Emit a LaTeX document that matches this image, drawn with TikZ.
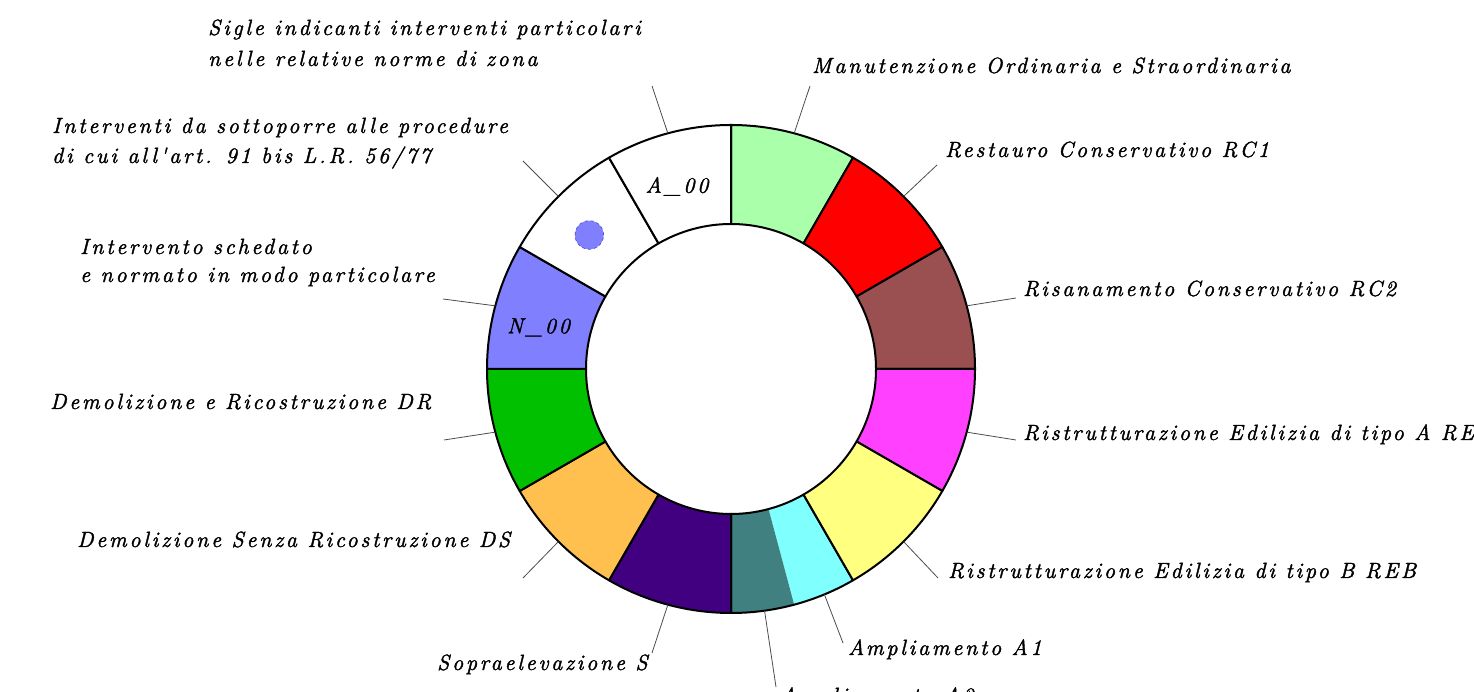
\documentclass[tikz,border=0pt]{standalone}
\usepackage{fontspec}
\setmainfont{Latin Modern Roman}
\newfontfamily\lblfam{Latin Modern Roman}[LetterSpace=13, FakeBold=1.8]
\definecolor{cMO}{RGB}{170,255,170}
\definecolor{cRC1}{RGB}{255,0,0}
\definecolor{cRC2}{RGB}{154,80,80}
\definecolor{cREA}{RGB}{255,64,255}
\definecolor{cREB}{RGB}{255,255,128}
\definecolor{cA1}{RGB}{128,255,255}
\definecolor{cA2}{RGB}{64,128,128}
\definecolor{cS}{RGB}{64,0,128}
\definecolor{cDS}{RGB}{255,192,80}
\definecolor{cDR}{RGB}{0,192,0}
\definecolor{cN}{RGB}{128,128,255}
\definecolor{cDot}{RGB}{64,64,224}
\begin{document}
\begin{tikzpicture}[x=1pt,y=1pt,
  seg/.style={draw=black, line width=2pt, line join=round},
  leader/.style={draw=black!70, line width=0.8pt},
  lbl/.style={anchor=base west, inner sep=0pt, font=\lblfam\itshape\fontsize{22}{26}\selectfont},
  inlbl/.style={anchor=base, inner sep=0pt, font=\lblfam\itshape\fontsize{22}{26}\selectfont},
  dotmark/.style={circle, minimum size=28.6pt, inner sep=0pt, fill=cN, draw=cDot, dashed, line width=0.6pt}]
\useasboundingbox (0,0) rectangle (1474,692);
\clip (0,0) rectangle (1474,692);
\coordinate (C) at (731,323);
% fills of the half sectors A1 / A2
\fill[cA1] ([shift={(-75:244pt)}]C) arc[start angle=-75,end angle=-60,radius=244pt]
  -- ([shift={(-60:145pt)}]C) arc[start angle=-60,end angle=-75,radius=145pt] -- cycle;
\fill[cA2] ([shift={(-90:244pt)}]C) arc[start angle=-90,end angle=-75,radius=244pt]
  -- ([shift={(-75:145pt)}]C) arc[start angle=-75,end angle=-90,radius=145pt] -- cycle;
\draw[seg] ([shift={(-90:244pt)}]C) arc[start angle=-90,end angle=-60,radius=244pt]
  -- ([shift={(-60:145pt)}]C) arc[start angle=-60,end angle=-90,radius=145pt] -- cycle;
% full sectors
\foreach \a/\b/\c in {60/90/cMO, 30/60/cRC1, 0/30/cRC2, -30/0/cREA, -60/-30/cREB,
  -120/-90/cS, -150/-120/cDS, -180/-150/cDR, 150/180/cN, 120/150/white, 90/120/white}{
  \filldraw[seg, fill=\c] ([shift={(\a:244pt)}]C) arc[start angle=\a,end angle=\b,radius=244pt]
    -- ([shift={(\b:145pt)}]C) arc[start angle=\b,end angle=\a,radius=145pt] -- cycle;
}
% labels inside ring
\node[inlbl] (a00) at (677,499.3) {A\_00};
\node[inlbl] (n00) at (538.5,358.7) {N\_00};
\node[dotmark] (dot) at (589.3,457) {};
% outside labels
\node[lbl] (sig1) at (208,657) {Sigle indicanti interventi particolari};
\node[lbl] (sig2) at (208,626) {nelle relative norme di zona};
\node[lbl] (int1) at (52,559) {Interventi da sottoporre alle procedure};
\node[lbl] (int2) at (52,529) {di cui all'art. 91 bis L.R. 56/77};
\node[lbl] (sch1) at (80,438) {Intervento schedato};
\node[lbl] (sch2) at (80,410) {e normato in modo particolare};
\node[lbl] (dr) at (50,283) {Demolizione e Ricostruzione DR};
\node[lbl] (ds) at (77,145) {Demolizione Senza Ricostruzione DS};
\node[lbl] (s) at (437,22) {Sopraelevazione S};
\node[lbl] (a2) at (780,-11) {Ampliamento A2};
\node[lbl] (a1) at (848,37) {Ampliamento A1};
\node[lbl] (reb) at (948,114) {Ristrutturazione Edilizia di tipo B REB};
\node[lbl] (rea) at (1023,252) {Ristrutturazione Edilizia di tipo A REA};
\node[lbl] (rc2) at (1023,396) {Risanamento Conservativo RC2};
\node[lbl] (rc1) at (945,535) {Restauro Conservativo RC1};
\node[lbl] (mo) at (812,619) {Manutenzione Ordinaria e Straordinaria};
% leader lines
\foreach \n/\ang/\ex/\ey in {Lsig/105/652/606, Lint/135/523/531, Lsch/165/443/393,
  Ldr/195/444/252, Lds/225/523/114, Ls/255/652/39, La2/-82.1/776/5, La1/-67.5/843/49,
  Lreb/-45/938/114, Lrea/-15/1016/252, Lrc2/15/1016/394, Lrc1/45/937/527, Lmo/75/810/606}{
  \coordinate (\n0) at ([shift={(\ang:244pt)}]C);
  \coordinate (\n1) at (\ex,\ey);
  \draw[leader] (\n0) -- (\n1);
}
\end{tikzpicture}
\end{document}
